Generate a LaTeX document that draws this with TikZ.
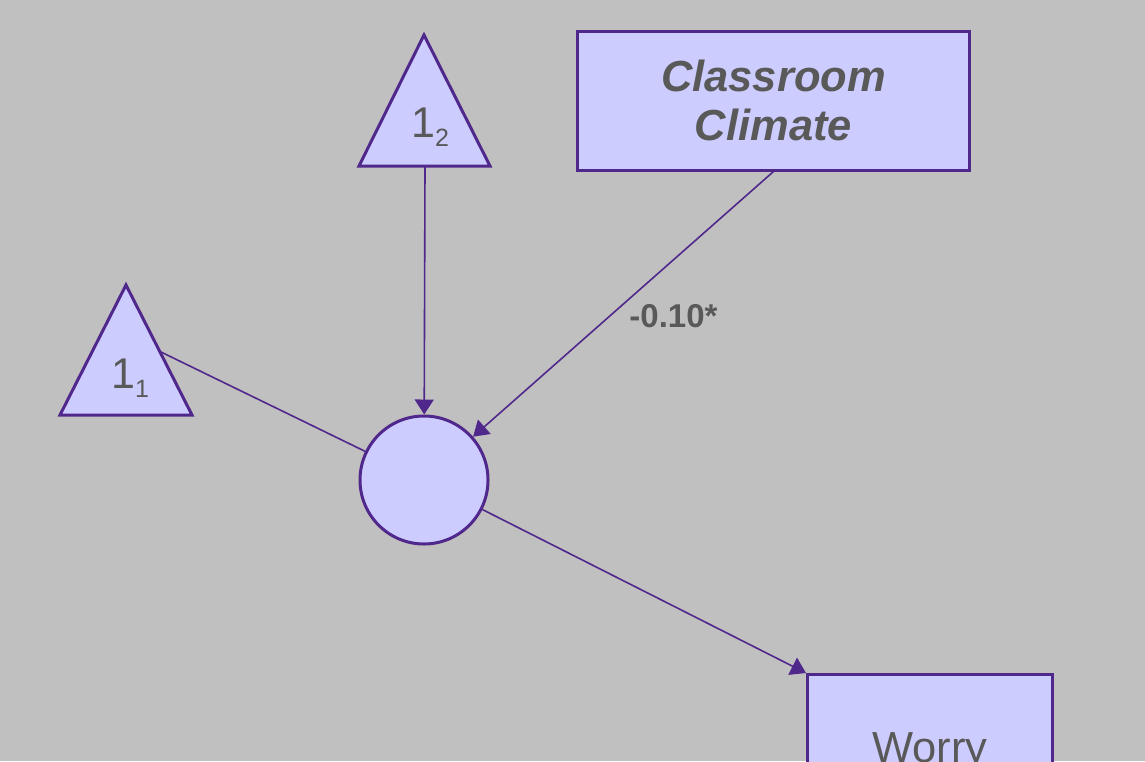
\documentclass[tikz,border=0pt]{standalone}
\usepackage{fontspec}
\setmainfont{Liberation Sans}
\usetikzlibrary{arrows.meta}
\definecolor{semfill}{RGB}{204,204,255}
\definecolor{semline}{RGB}{80,40,140}
\definecolor{semtext}{RGB}{89,89,89}
\definecolor{semback}{RGB}{192,192,192}

\begin{document}
\begin{tikzpicture}[x=0.5pt, y=-0.5pt,
    box/.style={draw=semline, line width=1.5pt, fill=semfill, inner sep=0pt, text=semtext},
    tri/.style={draw=semline, line width=1.5pt, fill=semfill, line join=miter},
    lat/.style={circle, draw=semline, line width=1.5pt, fill=semfill,
                minimum size=64pt, inner sep=0pt},
    num/.style={text=semtext, font=\fontsize{21.5}{25}\selectfont, anchor=base, inner sep=0pt},
    arr/.style={-{Triangle[length=7.5pt, width=9.5pt]}, semline, line width=0.8pt},
    lnk/.style={semline, line width=0.8pt},
    coef/.style={text=semtext, font=\fontsize{16.5}{19}\selectfont\bfseries,
                 anchor=base, inner sep=0pt}
  ]
  \fill[semback] (0,0) rectangle (1145,761);
  \useasboundingbox (0,0) rectangle (1145,761);
  \clip (0,0) rectangle (1145,761);

  % constants
  \draw[tri] (424,35) -- (490,166) -- (359,166) -- cycle;
  \draw[tri] (126,285) -- (192,415) -- (60,415) -- cycle;
  \node[num] (one2) at (430,137) {1\raisebox{-4.5pt}{\fontsize{12.5}{14}\selectfont 2}};
  \node[num] (one1) at (130,388) {1\raisebox{-4.5pt}{\fontsize{12.5}{14}\selectfont 1}};
  \coordinate (base2) at (425,166);
  \coordinate (edge1) at (161,352);

  \node[lat] (eta) at (424,480) {};
  \node[box, minimum width=196pt, minimum height=69.5pt, align=center,
        font=\fontsize{21.75}{24.5}\selectfont\bfseries\itshape]
        (climate) at (773.5,100.5) {Classroom\\Climate};
  \node[box, anchor=north west, minimum width=122.5pt, minimum height=77pt,
        text height=15.5pt, text depth=4.5pt, font=\fontsize{21.75}{25}\selectfont]
        (worry) at (806,673) {Worry};

  \draw[arr] (base2) -- (eta);
  \draw[arr] (climate.south) -- (eta);
  \draw[lnk] (eta) -- (edge1);
  \draw[arr] (eta) -- (worry.north west);

  \node[coef] (b1) at (673.5,327.5) {-0.10*};
\end{tikzpicture}
\end{document}
